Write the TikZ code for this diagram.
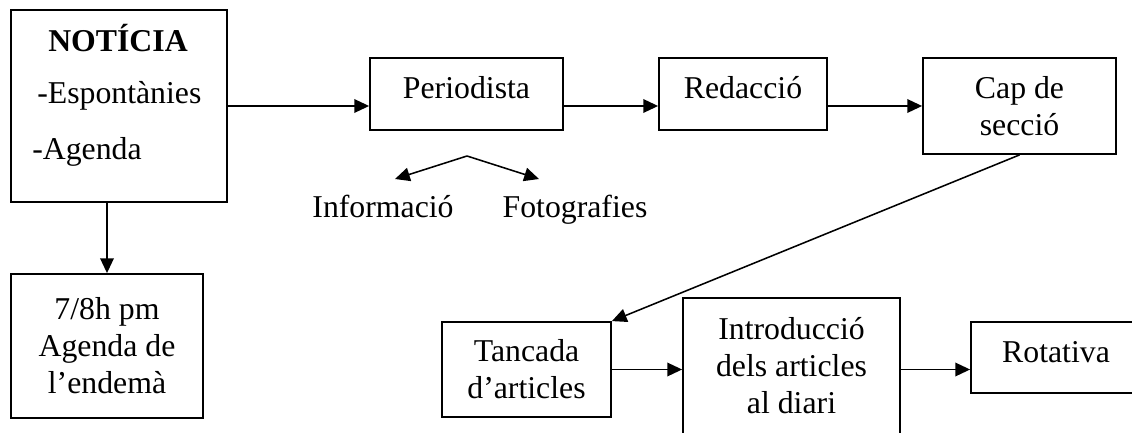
\documentclass[tikz,border=0pt]{standalone}
\usepackage{fontspec}
\setmainfont{Liberation Serif}
\usepackage{tikz}
\usetikzlibrary{arrows.meta,calc}

\begin{document}
\begin{tikzpicture}[
    every node/.style={font=\fontsize{22.6}{26.3}\selectfont},
    box/.style={draw, line width=1.3pt, inner sep=0pt, align=center},
    oneline/.style={text height=0.5cm, text depth=0.25cm},
    arr/.style={-{Triangle[length=0.37cm,width=0.34cm]}, line width=1.1pt}
  ]
    \useasboundingbox (0, 0) rectangle (28.3, -10.8);

    % Draw the boxes
    \node[box, minimum width=5.4cm, minimum height=4.8cm] (noticia) at (2.975, -2.65) {};
    \node[box, minimum width=4.8cm, minimum height=3.6cm] (agenda) at (2.675, -8.65)
      {7/8h pm\\Agenda de\\l’endemà};
    \node[box, oneline, minimum width=4.825cm, minimum height=1.8cm] (periodista) at (11.6625, -2.35) {Periodista};
    \node[box, oneline, minimum width=4.2cm, minimum height=1.8cm] (redaccio) at (18.575, -2.35) {Redacció};
    \node[box, minimum width=4.825cm, minimum height=2.4cm] (cap) at (25.4875, -2.65) {Cap de\\secció};
    \node[box, minimum width=4.225cm, minimum height=2.375cm] (tancada) at (13.1625, -9.2375)
      {Tancada\\d’articles};
    \node[box, minimum width=5.425cm, minimum height=3.4cm] (intro) at (19.7875, -9.15)
      {Introducció\\dels articles\\al diari};
    \node[box, oneline, minimum width=4.25cm, minimum height=1.775cm] (rotativa) at (26.4, -8.9375) {Rotativa};

    % Text of the first box
    \node[anchor=base, inner sep=0pt, font=\fontsize{22.6}{26.3}\selectfont\bfseries] (titol) at (2.95, -1.3) {NOTÍCIA};
    \node[anchor=base west, inner sep=0pt] (espont) at (0.925, -2.6) {-Espontànies};
    \node[anchor=base west, inner sep=0pt] (agend) at (0.8, -3.975) {-Agenda};

    % Labels under the journalist
    \node[anchor=base] (info) at (9.575, -5.425) {Informació};
    \node[anchor=base] (foto) at (14.375, -5.425) {Fotografies};
    \coordinate (fork) at (11.675, -3.9);
    \coordinate (infotip) at (9.875, -4.475);
    \coordinate (fototip) at (13.475, -4.475);

    % Draw the arrows
    \draw[arr] (noticia.south -| agenda.north) -- (agenda.north);
    \draw[arr] (noticia.east) -- (noticia.east -| periodista.west);
    \draw[arr] (periodista.east |- noticia.east) -- (redaccio.west |- noticia.east);
    \draw[arr] (redaccio.east |- noticia.east) -- (cap.west |- noticia.east);
    \draw[arr] (fork) -- (infotip);
    \draw[arr] (fork) -- (fototip);
    \draw[arr] (cap.south) -- (tancada.north east);
    \draw[arr] (tancada.east) -- (tancada.east -| intro.west);
    \draw[arr] (intro.east |- tancada.east) -- (rotativa.west |- tancada.east);
\end{tikzpicture}
\end{document}
